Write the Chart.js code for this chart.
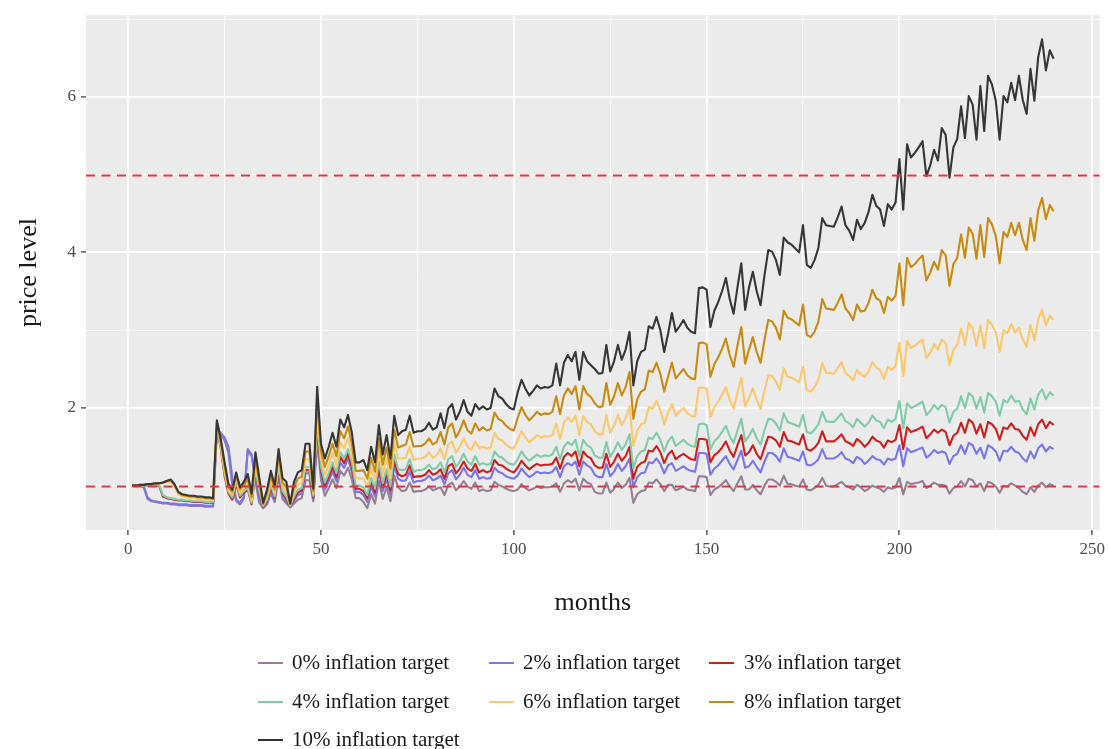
<!DOCTYPE html>
<html>
<head>
<meta charset="utf-8">
<title>Price level under different inflation targets</title>
<script src="https://cdn.jsdelivr.net/npm/chart.js@4.4.1/dist/chart.umd.min.js"></script>
<style>
  html, body { margin: 0; padding: 0; background: #ffffff; }
  canvas { display: block; }
</style>
</head>
<body>
<canvas id="chart" width="1109" height="749"></canvas>
<script>
// Simulation months 1..240
const months = Array.from({ length: 240 }, (_, i) => i + 1);

const seriesLabels = [
  '0% inflation target', '2% inflation target', '3% inflation target',
  '4% inflation target', '6% inflation target', '8% inflation target',
  '10% inflation target'
];

// Price level paths, one value per month
const target0 = [
  1.00,1.00,1.00,0.98,0.83,0.80,0.79,0.78,0.77,0.77,
  0.76,0.76,0.75,0.75,0.75,0.74,0.74,0.74,0.74,0.73,
  0.73,0.73,1.70,1.66,1.58,1.42,1.00,0.80,0.76,0.84,
  1.45,1.38,1.05,0.78,0.71,0.76,0.90,0.79,1.11,0.83,
  0.77,0.72,0.77,0.82,0.84,1.07,1.07,0.80,1.58,1.07,
  0.87,0.97,1.08,0.97,1.19,1.13,1.23,1.08,0.84,0.84,
  0.79,0.71,0.89,0.77,1.06,0.83,0.98,0.80,1.13,0.98,
  0.93,0.94,1.04,0.92,0.93,0.93,0.95,0.99,0.94,0.96,
  0.98,0.88,1.01,1.04,0.94,0.99,1.06,0.99,0.96,1.04,
  0.93,0.95,0.93,0.94,1.05,1.01,0.99,0.96,0.94,0.93,
  0.95,1.02,0.97,0.94,0.96,0.99,0.97,0.98,0.98,0.99,
  1.03,0.92,1.03,1.07,1.04,1.09,0.94,1.09,1.04,1.02,
  0.92,0.90,0.90,1.04,0.91,0.96,1.04,0.97,1.01,1.10,
  0.78,0.89,0.93,0.94,1.04,1.03,1.08,1.02,0.93,1.01,
  1.01,0.94,0.96,0.99,0.95,0.94,0.93,1.12,1.12,1.11,
  0.88,0.95,0.98,1.02,1.07,0.99,0.93,1.03,1.12,0.95,
  0.95,1.01,0.94,0.89,1.00,1.08,1.08,1.05,1.00,1.13,
  1.02,1.02,1.00,0.99,1.08,0.95,0.94,0.97,1.01,1.10,
  1.00,0.99,0.99,1.02,1.05,1.00,0.98,0.95,1.01,0.98,
  0.93,0.96,1.00,0.98,0.96,0.92,0.98,0.96,0.98,1.10,
  0.89,1.05,1.02,1.03,1.04,1.06,0.97,1.00,1.04,1.01,
  1.01,1.00,0.90,0.97,0.99,1.06,0.99,1.09,1.07,0.99,
  1.03,0.93,1.05,1.03,0.99,0.91,1.00,0.99,1.03,1.00,
  0.97,0.92,0.89,0.98,0.92,1.00,1.04,0.98,1.02,1.00
];

const target2 = [
  1.00,1.00,1.00,1.00,0.85,0.81,0.80,0.79,0.78,0.78,
  0.77,0.77,0.76,0.76,0.76,0.75,0.75,0.75,0.75,0.74,
  0.74,0.74,1.72,1.68,1.62,1.50,1.10,0.82,0.78,0.86,
  1.47,1.40,1.10,0.82,0.72,0.78,0.95,0.82,1.18,0.88,
  0.80,0.73,0.80,0.88,0.90,1.16,1.16,0.83,1.70,1.16,
  0.95,1.06,1.18,1.06,1.30,1.23,1.35,1.18,0.92,0.92,
  0.88,0.79,0.99,0.86,1.18,0.93,1.09,0.89,1.26,1.09,
  1.06,1.07,1.18,1.04,1.06,1.06,1.08,1.13,1.07,1.09,
  1.13,1.02,1.16,1.20,1.08,1.14,1.23,1.14,1.11,1.20,
  1.09,1.11,1.09,1.10,1.23,1.18,1.16,1.12,1.10,1.09,
  1.13,1.22,1.16,1.11,1.14,1.18,1.16,1.17,1.16,1.18,
  1.24,1.11,1.25,1.29,1.26,1.31,1.14,1.31,1.26,1.23,
  1.14,1.11,1.11,1.28,1.12,1.18,1.28,1.19,1.25,1.35,
  0.98,1.11,1.16,1.17,1.30,1.29,1.35,1.28,1.16,1.26,
  1.29,1.19,1.22,1.25,1.21,1.19,1.18,1.42,1.42,1.41,
  1.14,1.22,1.26,1.32,1.38,1.28,1.21,1.33,1.45,1.23,
  1.25,1.32,1.24,1.17,1.31,1.42,1.42,1.38,1.31,1.48,
  1.37,1.36,1.34,1.32,1.44,1.27,1.26,1.29,1.34,1.47,
  1.35,1.35,1.35,1.38,1.43,1.35,1.33,1.29,1.37,1.34,
  1.28,1.32,1.38,1.34,1.33,1.27,1.35,1.33,1.35,1.52,
  1.25,1.48,1.43,1.45,1.47,1.49,1.36,1.40,1.46,1.42,
  1.44,1.42,1.28,1.38,1.41,1.52,1.41,1.55,1.52,1.41,
  1.49,1.35,1.52,1.49,1.44,1.32,1.45,1.44,1.50,1.44,
  1.42,1.35,1.31,1.44,1.35,1.48,1.53,1.44,1.50,1.47
];

const target3 = [
  1.00,1.00,1.00,1.00,1.00,1.00,1.00,1.00,0.86,0.84,
  0.83,0.82,0.81,0.81,0.80,0.80,0.79,0.79,0.79,0.78,
  0.78,0.78,1.75,1.48,1.12,0.90,0.82,1.02,0.85,0.91,
  0.95,0.76,1.18,0.91,0.73,0.80,0.98,0.84,1.21,0.91,
  0.83,0.74,0.83,0.91,0.94,1.20,1.20,0.85,1.77,1.20,
  1.00,1.11,1.24,1.11,1.37,1.29,1.41,1.24,0.96,0.96,
  0.93,0.84,1.05,0.91,1.24,0.98,1.15,0.94,1.33,1.15,
  1.12,1.14,1.26,1.11,1.12,1.12,1.14,1.20,1.14,1.16,
  1.21,1.09,1.25,1.28,1.16,1.22,1.31,1.22,1.19,1.28,
  1.17,1.20,1.17,1.19,1.33,1.27,1.26,1.22,1.19,1.17,
  1.23,1.32,1.26,1.21,1.25,1.28,1.26,1.27,1.27,1.28,
  1.36,1.22,1.37,1.42,1.38,1.44,1.25,1.44,1.38,1.35,
  1.26,1.23,1.23,1.41,1.24,1.31,1.41,1.32,1.38,1.50,
  1.09,1.24,1.29,1.31,1.45,1.44,1.51,1.43,1.29,1.40,
  1.45,1.34,1.38,1.41,1.37,1.34,1.33,1.60,1.60,1.59,
  1.30,1.39,1.43,1.49,1.57,1.45,1.37,1.52,1.65,1.39,
  1.43,1.52,1.41,1.34,1.49,1.63,1.62,1.58,1.50,1.69,
  1.58,1.57,1.55,1.53,1.66,1.47,1.45,1.49,1.55,1.70,
  1.57,1.57,1.57,1.61,1.66,1.57,1.55,1.51,1.60,1.56,
  1.50,1.55,1.63,1.58,1.56,1.49,1.58,1.56,1.59,1.78,
  1.47,1.75,1.69,1.71,1.73,1.76,1.61,1.66,1.72,1.68,
  1.72,1.69,1.52,1.64,1.68,1.81,1.68,1.85,1.81,1.67,
  1.79,1.62,1.82,1.79,1.73,1.59,1.75,1.73,1.80,1.73,
  1.72,1.64,1.59,1.75,1.64,1.79,1.85,1.74,1.82,1.78
];

const target4 = [
  1.00,1.00,1.00,1.00,1.00,1.01,1.01,1.01,0.88,0.85,
  0.84,0.83,0.82,0.82,0.81,0.81,0.80,0.80,0.80,0.79,
  0.79,0.79,1.78,1.50,1.15,0.92,0.85,1.05,0.87,0.93,
  0.97,0.78,1.21,0.93,0.74,0.82,1.01,0.86,1.25,0.93,
  0.86,0.74,0.86,0.95,0.97,1.24,1.24,0.87,1.83,1.24,
  1.04,1.16,1.30,1.16,1.43,1.35,1.47,1.30,1.00,1.00,
  0.98,0.88,1.10,0.96,1.31,1.03,1.21,0.99,1.40,1.21,
  1.20,1.21,1.34,1.18,1.20,1.20,1.22,1.27,1.21,1.23,
  1.30,1.17,1.34,1.38,1.24,1.31,1.41,1.31,1.27,1.38,
  1.27,1.29,1.27,1.28,1.44,1.38,1.36,1.31,1.28,1.27,
  1.34,1.44,1.37,1.32,1.36,1.40,1.37,1.39,1.38,1.40,
  1.50,1.34,1.50,1.56,1.52,1.59,1.38,1.59,1.52,1.49,
  1.39,1.36,1.36,1.56,1.37,1.45,1.56,1.46,1.53,1.66,
  1.22,1.38,1.44,1.46,1.62,1.60,1.68,1.59,1.44,1.57,
  1.63,1.51,1.55,1.59,1.54,1.51,1.50,1.79,1.80,1.78,
  1.47,1.57,1.62,1.69,1.77,1.64,1.55,1.71,1.86,1.57,
  1.64,1.73,1.61,1.53,1.71,1.86,1.85,1.80,1.71,1.93,
  1.82,1.80,1.78,1.76,1.91,1.69,1.67,1.72,1.79,1.95,
  1.83,1.82,1.82,1.87,1.93,1.83,1.80,1.75,1.86,1.81,
  1.76,1.81,1.90,1.84,1.82,1.74,1.85,1.82,1.86,2.09,
  1.74,2.06,2.00,2.02,2.05,2.08,1.91,1.96,2.04,1.98,
  2.04,2.01,1.81,1.95,1.99,2.15,2.00,2.19,2.15,1.99,
  2.14,1.94,2.19,2.15,2.08,1.90,2.10,2.07,2.16,2.08,
  2.09,1.98,1.92,2.12,1.98,2.17,2.24,2.11,2.20,2.16
];

const target6 = [
  1.00,1.00,1.00,1.01,1.01,1.01,1.02,1.02,1.03,1.04,
  1.05,0.99,0.89,0.86,0.85,0.84,0.84,0.83,0.83,0.82,
  0.82,0.81,1.80,1.52,1.20,0.95,0.88,1.09,0.91,0.97,
  1.03,0.81,1.28,0.99,0.75,0.86,1.07,0.90,1.32,0.99,
  0.92,0.75,0.92,1.02,1.04,1.34,1.34,0.90,1.97,1.34,
  1.14,1.26,1.42,1.26,1.56,1.48,1.61,1.42,1.10,1.10,
  1.09,0.98,1.23,1.06,1.45,1.14,1.35,1.10,1.55,1.35,
  1.35,1.36,1.50,1.33,1.35,1.35,1.37,1.43,1.36,1.39,
  1.48,1.34,1.53,1.57,1.42,1.50,1.61,1.50,1.46,1.57,
  1.48,1.50,1.48,1.49,1.68,1.60,1.58,1.53,1.49,1.48,
  1.59,1.70,1.62,1.56,1.60,1.65,1.62,1.64,1.63,1.65,
  1.80,1.60,1.81,1.88,1.82,1.90,1.65,1.90,1.82,1.79,
  1.70,1.66,1.66,1.91,1.68,1.77,1.91,1.78,1.87,2.02,
  1.51,1.71,1.79,1.81,2.01,1.99,2.09,1.97,1.79,1.94,
  2.05,1.90,1.95,2.00,1.93,1.90,1.89,2.26,2.26,2.25,
  1.88,2.01,2.08,2.17,2.27,2.10,1.99,2.20,2.39,2.02,
  2.13,2.25,2.10,1.99,2.22,2.42,2.41,2.34,2.23,2.51,
  2.40,2.39,2.36,2.33,2.53,2.23,2.21,2.27,2.36,2.58,
  2.45,2.45,2.44,2.51,2.59,2.45,2.41,2.35,2.49,2.43,
  2.40,2.47,2.59,2.52,2.49,2.37,2.53,2.49,2.54,2.84,
  2.41,2.86,2.77,2.80,2.84,2.88,2.64,2.71,2.82,2.75,
  2.88,2.83,2.55,2.75,2.81,3.02,2.81,3.09,3.03,2.80,
  3.06,2.77,3.13,3.07,2.97,2.72,3.00,2.96,3.08,2.97,
  3.03,2.88,2.79,3.07,2.87,3.14,3.26,3.06,3.19,3.13
];

const target8 = [
  1.00,1.00,1.01,1.01,1.02,1.02,1.03,1.03,1.04,1.06,
  1.07,1.01,0.91,0.88,0.87,0.86,0.86,0.85,0.85,0.84,
  0.84,0.83,1.82,1.56,1.25,0.98,0.92,1.13,0.95,1.01,
  1.09,0.85,1.35,1.04,0.76,0.90,1.13,0.95,1.39,1.04,
  0.98,0.76,0.98,1.09,1.12,1.44,1.44,0.93,2.12,1.44,
  1.24,1.38,1.54,1.38,1.70,1.61,1.76,1.54,1.19,1.19,
  1.20,1.09,1.36,1.18,1.61,1.27,1.49,1.22,1.72,1.49,
  1.51,1.53,1.69,1.50,1.51,1.51,1.54,1.61,1.53,1.56,
  1.69,1.53,1.75,1.80,1.62,1.71,1.84,1.71,1.67,1.80,
  1.71,1.75,1.71,1.73,1.94,1.86,1.83,1.77,1.73,1.71,
  1.87,2.01,1.91,1.84,1.89,1.95,1.91,1.93,1.92,1.95,
  2.15,1.92,2.16,2.25,2.18,2.28,1.98,2.28,2.18,2.14,
  2.06,2.01,2.02,2.32,2.04,2.15,2.32,2.16,2.27,2.46,
  1.86,2.11,2.21,2.24,2.48,2.46,2.58,2.44,2.21,2.40,
  2.58,2.38,2.44,2.50,2.42,2.38,2.37,2.83,2.84,2.82,
  2.40,2.56,2.65,2.76,2.89,2.68,2.53,2.80,3.04,2.57,
  2.75,2.91,2.72,2.58,2.87,3.13,3.11,3.03,2.88,3.25,
  3.16,3.14,3.10,3.06,3.33,2.94,2.91,2.98,3.11,3.40,
  3.28,3.27,3.26,3.35,3.46,3.28,3.22,3.13,3.33,3.24,
  3.25,3.35,3.52,3.41,3.38,3.22,3.43,3.38,3.44,3.86,
  3.32,3.93,3.81,3.85,3.91,3.96,3.64,3.74,3.88,3.78,
  4.03,3.96,3.57,3.85,3.93,4.23,3.93,4.32,4.24,3.92,
  4.35,3.94,4.44,4.36,4.21,3.86,4.26,4.20,4.38,4.22,
  4.38,4.16,4.03,4.44,4.15,4.54,4.70,4.43,4.61,4.53
];

const target10 = [
  1.00,1.00,1.01,1.01,1.02,1.02,1.03,1.03,1.04,1.06,
  1.08,1.02,0.92,0.89,0.88,0.87,0.87,0.86,0.86,0.85,
  0.85,0.84,1.84,1.60,1.30,1.02,0.95,1.17,0.98,1.05,
  1.15,0.90,1.43,1.10,0.78,0.95,1.19,1.00,1.47,1.10,
  1.05,0.77,1.05,1.17,1.20,1.54,1.54,0.96,2.27,1.54,
  1.35,1.50,1.68,1.50,1.85,1.75,1.91,1.68,1.30,1.30,
  1.33,1.20,1.50,1.30,1.78,1.40,1.65,1.35,1.90,1.65,
  1.70,1.72,1.90,1.68,1.70,1.70,1.73,1.81,1.72,1.75,
  1.93,1.74,1.99,2.05,1.85,1.95,2.10,1.95,1.90,2.05,
  1.98,2.02,1.98,2.00,2.25,2.15,2.12,2.05,2.00,1.98,
  2.20,2.36,2.25,2.16,2.22,2.29,2.25,2.27,2.26,2.29,
  2.57,2.29,2.58,2.68,2.60,2.72,2.36,2.72,2.60,2.55,
  2.50,2.44,2.45,2.81,2.47,2.60,2.81,2.62,2.75,2.98,
  2.29,2.60,2.72,2.75,3.05,3.02,3.17,3.00,2.72,2.95,
  3.22,2.98,3.05,3.13,3.03,2.98,2.96,3.54,3.55,3.52,
  3.04,3.25,3.36,3.50,3.67,3.40,3.21,3.55,3.86,3.26,
  3.55,3.75,3.50,3.32,3.70,4.03,4.01,3.90,3.71,4.19,
  4.13,4.10,4.05,4.00,4.35,3.84,3.80,3.90,4.06,4.44,
  4.35,4.34,4.33,4.45,4.59,4.35,4.28,4.16,4.42,4.30,
  4.38,4.52,4.74,4.60,4.55,4.34,4.62,4.55,4.64,5.20,
  4.55,5.39,5.22,5.28,5.35,5.43,4.98,5.12,5.32,5.18,
  5.60,5.51,4.96,5.35,5.46,5.88,5.47,6.01,5.90,5.45,
  6.14,5.56,6.27,6.16,5.95,5.45,6.01,5.93,6.18,5.96,
  6.27,5.96,5.78,6.36,5.95,6.51,6.74,6.34,6.60,6.49
];

// Horizontal reference levels (dashed)
const referenceLevels = [1, 5];

// Labelled ticks
const xTickLabels = [0, 50, 100, 150, 200, 250];
const yTickLabels = [2, 4, 6];

const seriesValues = [target0, target2, target3, target4, target6, target8, target10];
const seriesColors = ['#957f93', '#7a74ee', '#cc1f1f', '#80cba8', '#fbc96b', '#c98a12', '#363636'];

const SERIF = "'Liberation Serif', 'Times New Roman', serif";

const datasets = seriesLabels.map((label, k) => ({
  label,
  data: months.map((m, i) => ({ x: m, y: seriesValues[k][i] })),
  borderColor: seriesColors[k],
  backgroundColor: seriesColors[k],
  borderWidth: 2.1,
  borderJoinStyle: 'round',
  pointRadius: 0,
  tension: 0,
  fill: false,
  order: seriesLabels.length - k
}));

// Grey panel behind the plot area
const panelBackground = {
  id: 'panelBackground',
  beforeDraw(chart) {
    const { ctx, chartArea: a } = chart;
    ctx.save();
    ctx.fillStyle = '#ebebeb';
    ctx.fillRect(a.left, a.top, a.right - a.left, a.bottom - a.top);
    ctx.restore();
  }
};

// Dashed red horizontal reference lines
const referenceLines = {
  id: 'referenceLines',
  afterDatasetsDraw(chart) {
    const { ctx, chartArea: a, scales: { y } } = chart;
    ctx.save();
    ctx.beginPath();
    ctx.rect(a.left, a.top, a.right - a.left, a.bottom - a.top);
    ctx.clip();
    ctx.strokeStyle = '#e2334b';
    ctx.lineWidth = 2;
    ctx.setLineDash([9, 6.5]);
    referenceLevels.forEach(level => {
      const py = Math.round(y.getPixelForValue(level)) + 0.5;
      ctx.beginPath();
      ctx.moveTo(a.left, py);
      ctx.lineTo(a.right, py);
      ctx.stroke();
    });
    ctx.restore();
  }
};

// Three-column legend beneath the x axis title
const bottomLegend = {
  id: 'bottomLegend',
  afterDraw(chart) {
    const { ctx } = chart;
    const keyX = [258, 489, 709];
    const textX = [292, 523, 744];
    const rowY = [663, 702, 740];
    ctx.save();
    ctx.font = `21px ${SERIF}`;
    ctx.textBaseline = 'middle';
    ctx.textAlign = 'left';
    chart.data.datasets.forEach((ds, i) => {
      const col = i % 3, row = Math.floor(i / 3);
      const yy = rowY[row];
      ctx.strokeStyle = ds.borderColor;
      ctx.lineWidth = 2;
      ctx.setLineDash([]);
      ctx.beginPath();
      ctx.moveTo(keyX[col], yy);
      ctx.lineTo(keyX[col] + 25, yy);
      ctx.stroke();
      ctx.fillStyle = '#1a1a1a';
      ctx.fillText(ds.label, textX[col], yy);
    });
    ctx.restore();
  }
};

new Chart(document.getElementById('chart'), {
  type: 'line',
  data: { datasets },
  plugins: [panelBackground, referenceLines, bottomLegend],
  options: {
    responsive: false,
    animation: false,
    events: [],
    layout: { padding: { top: 13, right: 9, bottom: 130, left: 0 } },
    plugins: { legend: { display: false }, tooltip: { enabled: false } },
    scales: {
      x: {
        type: 'linear',
        min: -10.95,
        max: 251.95,
        afterFit(scale) { scale.height = 89; },
        border: { display: false },
        grid: {
          color: '#ffffff',
          lineWidth: c => (c.tick && c.tick.value % 50 === 0 ? 1.8 : 0.9),
          drawTicks: true,
          tickLength: 5,
          tickWidth: 1.2,
          tickColor: c => (c.tick && c.tick.value % 50 === 0 ? '#333333' : 'rgba(0,0,0,0)')
        },
        ticks: {
          stepSize: 25,
          includeBounds: false,
          autoSkip: false,
          maxRotation: 0,
          padding: 4,
          color: '#4d4d4d',
          font: { family: SERIF, size: 17 },
          callback: v => (xTickLabels.includes(v) ? String(v) : '')
        },
        title: {
          display: true,
          text: 'months',
          color: '#1a1a1a',
          font: { family: SERIF, size: 26 },
          padding: { top: 0, bottom: 0 }
        }
      },
      y: {
        type: 'linear',
        min: 0.43,
        max: 7.05,
        afterFit(scale) { scale.width = 86; },
        border: { display: false },
        grid: {
          color: '#ffffff',
          lineWidth: c => (c.tick && c.tick.value % 2 === 0 ? 1.8 : 0.9),
          drawTicks: true,
          tickLength: 5,
          tickWidth: 1.2,
          tickColor: c => (c.tick && c.tick.value % 2 === 0 ? '#333333' : 'rgba(0,0,0,0)')
        },
        ticks: {
          stepSize: 1,
          includeBounds: false,
          autoSkip: false,
          padding: 5,
          color: '#4d4d4d',
          font: { family: SERIF, size: 17 },
          callback: v => (yTickLabels.includes(v) ? String(v) : '')
        },
        title: {
          display: true,
          text: 'price level',
          color: '#1a1a1a',
          font: { family: SERIF, size: 26 },
          padding: { top: 14, bottom: 0 }
        }
      }
    }
  }
});
</script>
</body>
</html>
